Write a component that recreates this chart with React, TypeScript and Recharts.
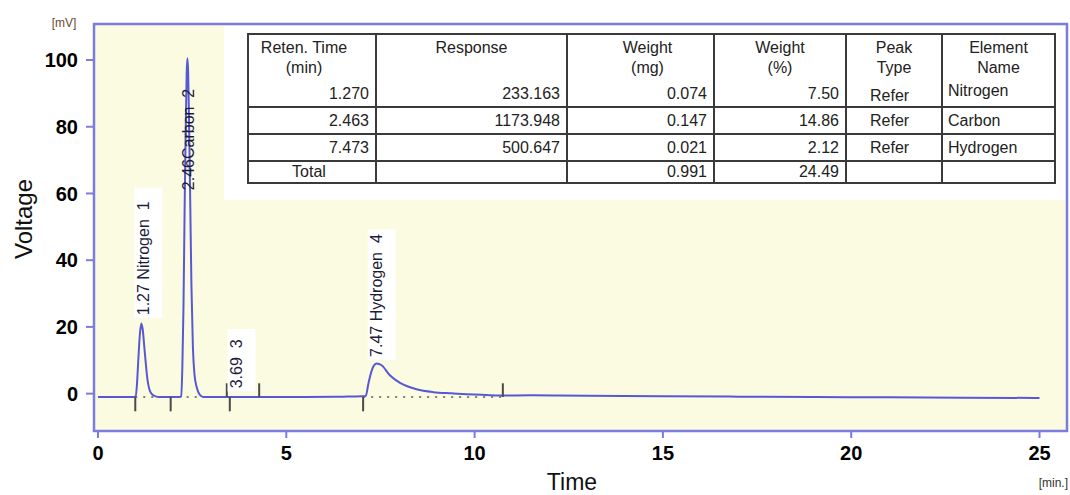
import React from 'react';
import {
  ComposedChart, Line, Scatter, XAxis, YAxis, ReferenceArea, ReferenceLine,
} from 'recharts';

// chromatogram trace (time in min, signal in mV)
const traceTime = [
  0, 0.5, 0.95, 1.0, 1.03, 1.07, 1.11, 1.15, 1.19, 1.23, 1.27, 1.31, 1.36, 1.42, 1.5, 1.6,
  2.0, 2.15, 2.21, 2.24, 2.27, 2.30, 2.33, 2.355, 2.375, 2.395, 2.42, 2.45, 2.48, 2.52, 2.56, 2.62, 2.7, 2.8,
  3.5, 4.5, 5.5, 6.5, 7.0, 7.11, 7.18, 7.27, 7.4, 7.53, 7.75, 8.02, 8.46, 8.9, 9.4, 9.79, 10.3, 10.67,
  11.5, 13, 15, 17, 19, 21, 23, 25,
];
const traceMv = [
  -1, -1, -1, -0.8, 2, 10, 17.5, 21, 19, 14, 9, 4.5, 1.5, 0, -0.7, -1,
  -1, -1, -0.8, 8, 26, 55, 80, 96, 100.5, 96, 80, 57, 33, 14, 6, 2, -0.3, -1,
  -1, -1, -1, -0.9, -0.8, -0.7, 3, 7, 9, 8.5, 5.5, 3.2, 1.3, 0.45, 0.1, -0.15, -0.4, -0.55,
  -0.5, -0.6, -0.8, -0.9, -1.0, -1.1, -1.2, -1.3,
];

// peak annotations
const peakLabels = ['1.27 Nitrogen  1', '2.46Carbon  2', '3.69  3', '7.47 Hydrogen  4'];
const peakLabelTime = [1.2, 2.4, 3.68, 7.4];
const peakLabelMv = [23.5, 61, 1.6, 11];
const peakLabelBoxed = [true, false, true, true];

// integration marks
const baselineMv = -1;
const markDown = [0.99, 1.93, 3.5, 7.04];
const markUp = [3.42, 4.28, 10.75];
const dottedFrom = [0.99, 1.93, 3.42, 7.04];
const dottedTo = [1.93, 3.42, 4.28, 10.75];

const xTicks = [0, 5, 10, 15, 20, 25];
const yTicks = [0, 20, 40, 60, 80, 100];
const xDomain = [-0.106, 25.73];
const yDomain = [-11.2, 110.8];

// result table
const tableHead1 = ['Reten. Time', 'Response', 'Weight', 'Weight', 'Peak', 'Element'];
const tableHead2 = ['(min)', '', '(mg)', '(%)', 'Type', 'Name'];
const retTimes = ['1.270', '2.463', '7.473'];
const responses = ['233.163', '1173.948', '500.647'];
const weightsMg = ['0.074', '0.147', '0.021'];
const weightsPct = ['7.50', '14.86', '2.12'];
const peakTypes = ['Refer', 'Refer', 'Refer'];
const elements = ['Nitrogen', 'Carbon', 'Hydrogen'];
const totals = ['Total', '', '0.991', '24.49', '', ''];

const colWidths = [128, 191, 147, 132, 96, 113];

const trace = traceTime.map((t, i) => ({ t, v: traceMv[i] }));
const labelData = peakLabels.map((label, i) => ({
  t: peakLabelTime[i], v: peakLabelMv[i], label, boxed: peakLabelBoxed[i],
}));

const FRAME = '#7c7ce0';
const LINE = '#5858d4';
const FONT = '"Liberation Sans", Arial, sans-serif';

const PeakLabel = (props: any) => {
  const { cx, cy, payload } = props;
  if (cx == null || cy == null) return null;
  const len = payload.label.length * 7.6;
  return (
    <g>
      {payload.boxed && (
        <rect x={cx - 9} y={cy - len - 6} width={28} height={len + 9} fill="#fff" />
      )}
      <text
        x={cx}
        y={cy}
        transform={`rotate(-90 ${cx} ${cy})`}
        dominantBaseline="central"
        fontSize={16}
        fontFamily={FONT}
        fill="#1c1c38"
        style={{ whiteSpace: 'pre' }}
      >
        {payload.label}
      </text>
    </g>
  );
};

const cell: React.CSSProperties = { border: '2px solid #3a3a3a', padding: 0, verticalAlign: 'top' };

const App = () => {
  const rows = retTimes.map((rt, i) => [rt, responses[i], weightsMg[i], weightsPct[i], peakTypes[i], elements[i]]);
  const alignFor = (c: number): React.CSSProperties =>
    c < 4 ? { textAlign: 'right', paddingRight: 6 } : c === 4 ? { textAlign: 'left', paddingLeft: 23 } : { textAlign: 'left', paddingLeft: 5 };

  return (
    <div style={{ position: 'absolute', left: 0, top: 0, width: 1070, height: 495, background: '#fff', overflow: 'hidden' }}>
      <ComposedChart width={1070} height={495} margin={{ top: 24, right: 3, bottom: 0, left: 0 }}>
        <XAxis
          type="number"
          dataKey="t"
          domain={xDomain}
          ticks={xTicks}
          allowDataOverflow
          axisLine={false}
          tickSize={7}
          tickMargin={8}
          height={64}
          tickLine={{ stroke: FRAME, strokeWidth: 2 }}
          tick={{ fill: '#000', fontSize: 20, fontWeight: 'bold', fontFamily: FONT }}
        />
        <YAxis
          type="number"
          domain={yDomain}
          ticks={yTicks}
          allowDataOverflow
          axisLine={false}
          width={94}
          tickSize={8}
          tickMargin={8}
          tickLine={{ stroke: FRAME, strokeWidth: 2 }}
          tick={{ fill: '#000', fontSize: 20, fontWeight: 'bold', fontFamily: FONT }}
        />
        <ReferenceArea
          x1={xDomain[0]} x2={xDomain[1]} y1={yDomain[0]} y2={yDomain[1]}
          fill="#fbfbe2" fillOpacity={1} stroke={FRAME} strokeWidth={2.5}
        />
        {dottedFrom.map((a, i) => (
          <ReferenceLine
            key={`d${i}`}
            segment={[{ x: a, y: baselineMv }, { x: dottedTo[i], y: baselineMv }]}
            stroke="#555" strokeWidth={1.5} strokeDasharray="2 6"
          />
        ))}
        <Line
          data={trace} dataKey="v" type="monotone" dot={false}
          stroke={LINE} strokeWidth={2} isAnimationActive={false}
        />
        <Scatter data={labelData} dataKey="v" shape={(p: any) => <PeakLabel {...p} />} isAnimationActive={false} />
        {markDown.map((t, i) => (
          <ReferenceLine
            key={`md${i}`}
            segment={[{ x: t, y: baselineMv }, { x: t, y: baselineMv - 4.3 }]}
            stroke="#4a4a4a" strokeWidth={2}
          />
        ))}
        {markUp.map((t, i) => (
          <ReferenceLine
            key={`mu${i}`}
            segment={[{ x: t, y: baselineMv }, { x: t, y: baselineMv + 4.1 }]}
            stroke="#4a4a4a" strokeWidth={2}
          />
        ))}
      </ComposedChart>

      <svg width={1070} height={495} style={{ position: 'absolute', left: 0, top: 0, pointerEvents: 'none' }}>
        <text x={23} y={219} transform="rotate(-90 23 219)" textAnchor="middle" dominantBaseline="central"
          fontSize={24} fontFamily={FONT} fill="#111">Voltage</text>
        <text x={572} y={490} textAnchor="middle" fontSize={23} fontFamily={FONT} fill="#111">Time</text>
        <text x={64} y={27} textAnchor="middle" fontSize={12} fontFamily={FONT} fill="#6a4a30">[mV]</text>
        <text x={1068} y={487} textAnchor="end" fontSize={12} fontFamily={FONT} fill="#333">[min.]</text>
      </svg>

      <div style={{ position: 'absolute', left: 224, top: 26, width: 841, height: 174, background: '#fff' }} />

      <table
        style={{
          position: 'absolute', left: 247, top: 33, width: 807, borderCollapse: 'collapse', tableLayout: 'fixed',
          fontFamily: FONT, fontSize: 16, color: '#222', background: '#fff', lineHeight: '20px',
        }}
      >
        <colgroup>
          {colWidths.map((w, i) => <col key={i} style={{ width: w }} />)}
        </colgroup>
        <tbody>
          <tr style={{ height: 71 }}>
            {tableHead1.map((h, c) => (
              <td key={c} style={cell}>
                <div style={{ height: 46, paddingTop: 3, textAlign: 'center', paddingRight: c === 0 ? 16 : 0, paddingLeft: c === 2 ? 14 : 0 }}>
                  {h}<br />{tableHead2[c]}
                </div>
                <div style={{ ...alignFor(c), marginTop: c === 5 ? -3 : c === 4 ? 2 : 0 }}>{rows[0][c]}</div>
              </td>
            ))}
          </tr>
          {rows.slice(1).map((r, ri) => (
            <tr key={ri} style={{ height: 27 }}>
              {r.map((v, c) => (
                <td key={c} style={{ ...cell, verticalAlign: 'middle', ...alignFor(c) }}>{v}</td>
              ))}
            </tr>
          ))}
          <tr style={{ height: 22 }}>
            {totals.map((v, c) => (
              <td key={c} style={{ ...cell, verticalAlign: 'middle', ...(c === 0 ? { textAlign: 'center', paddingRight: 6 } : alignFor(c)) }}>{v}</td>
            ))}
          </tr>
        </tbody>
      </table>
    </div>
  );
};

export default App;
